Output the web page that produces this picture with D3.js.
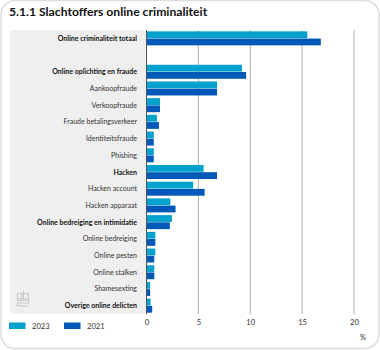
<!DOCTYPE html>
<html lang="nl">
<head>
<meta charset="UTF-8"/>
<title>5.1.1 Slachtoffers online criminaliteit</title>
<script src="https://d3js.org/d3.v7.min.js"></script>
<style>
	html, body { margin: 0; padding: 0; background: #fff; }
	svg { display: block; font-family: Lato, sans-serif; }
	.domain { display: none; }
</style>
</head>
<body>
<script>

var categories = [
	"Online criminaliteit totaal", "",
	"Online oplichting en fraude", "Aankoopfraude", "Verkoopfraude",
	"Fraude betalingsverkeer", "Identiteitsfraude", "Phishing",
	"Hacken", "Hacken account", "Hacken apparaat",
	"Online bedreiging en intimidatie", "Online bedreiging", "Online pesten",
	"Online stalken", "Shamesexting", "Overige online delicten"
];
var boldCategories = [
	"Online criminaliteit totaal", "Online oplichting en fraude", "Hacken",
	"Online bedreiging en intimidatie", "Overige online delicten"
];
var values2023 = [15.5, null, 9.2, 6.8, 1.3, 1.0, 0.7, 0.7, 5.5, 4.5, 2.3, 2.45, 0.85, 0.85, 0.75, 0.35, 0.4];
var values2021 = [16.8, null, 9.6, 6.8, 1.3, 1.2, 0.7, 0.7, 6.8, 5.6, 2.8, 2.25, 0.85, 0.75, 0.75, 0.35, 0.55];
var xTicks = [0, 5, 10, 15, 20];
var seriesNames = ["2023", "2021"];
var seriesColors = ["#00a1cd", "#0058b8"];

var w = 380;
var h = 350;
var top_ = 30;
var bottom = 314;
var x0 = 146.5;
var x20 = 354;

var svg = d3.select("body").append("svg")
	.attr("width", w)
	.attr("height", h);

// card outline
svg.append("rect")
	.attr("x", 1).attr("y", 0.5)
	.attr("width", 378).attr("height", 348)
	.attr("rx", 14)
	.attr("fill", "#fff")
	.attr("stroke", "#dcdcdc")
	.attr("stroke-width", 1.5);

svg.append("text")
	.attr("x", 9).attr("y", 16)
	.attr("font-size", 12.2)
	.attr("font-weight", 700)
	.attr("fill", "#111")
	.text("5.1.1 Slachtoffers online criminaliteit");

// grey label panel
svg.append("path")
	.attr("d", "M" + x0 + "," + top_ + "H13a3,3 0 0 0 -3,3V" + (bottom - 5) + "a5,5 0 0 0 5,5H" + x0 + "Z")
	.attr("fill", "#efefef");

var xScale = d3.scaleLinear().domain([0, 20]).range([x0, x20]);
var yScale = d3.scaleBand().domain(d3.range(categories.length)).range([top_, bottom]);
var barH = 6.8;

var xAxis = d3.axisBottom(xScale)
	.tickValues(xTicks)
	.tickSize(0)
	.tickPadding(5);

var gx = svg.append("g")
	.attr("transform", "translate(0," + (bottom + 1) + ")")
	.call(xAxis);
gx.selectAll("text")
	.attr("font-size", 7.6)
	.attr("font-family", "Lato, sans-serif")
	.attr("fill", "#333");

svg.selectAll(".grid")
	.data(xTicks.slice(1))
	.enter().append("line")
	.attr("class", "grid")
	.attr("x1", function(d) { return xScale(d); })
	.attr("x2", function(d) { return xScale(d); })
	.attr("y1", top_).attr("y2", bottom)
	.attr("stroke", "#b0b0b0")
	.attr("stroke-width", 1);

// bars, 2023 above and 2021 below
[values2023, values2021].forEach(function(vals, s) {
	var rows = vals.map(function(v, i) { return { v: v, i: i }; })
		.filter(function(d) { return d.v !== null; });
	svg.selectAll(".bar" + s)
		.data(rows)
		.enter().append("rect")
		.attr("class", "bar" + s)
		.attr("x", x0)
		.attr("y", function(d) {
			return yScale(d.i) + yScale.bandwidth() / 2 - (s === 0 ? barH + 0.2 : -0.2);
		})
		.attr("width", function(d) { return xScale(d.v) - x0; })
		.attr("height", barH)
		.attr("fill", seriesColors[s]);
});

svg.append("line")
	.attr("x1", x0).attr("x2", x0)
	.attr("y1", top_).attr("y2", bottom)
	.attr("stroke", "#555")
	.attr("stroke-width", 1);

svg.selectAll(".label")
	.data(categories)
	.enter().append("text")
	.attr("class", "label")
	.attr("x", 137)
	.attr("y", function(d, i) { return yScale(i) + yScale.bandwidth() / 2 + 2.5; })
	.attr("text-anchor", "end")
	.attr("font-size", 7)
	.attr("font-weight", function(d) { return boldCategories.indexOf(d) >= 0 ? 700 : 400; })
	.attr("fill", function(d) { return boldCategories.indexOf(d) >= 0 ? "#111" : "#333"; })
	.text(function(d) { return d; });

svg.append("text")
	.attr("x", 363).attr("y", 340)
	.attr("text-anchor", "middle")
	.attr("font-size", 7.6)
	.attr("fill", "#333")
	.text("%");

// legend
var legendX = [9, 64];
seriesNames.forEach(function(name, i) {
	svg.append("rect")
		.attr("x", legendX[i]).attr("y", 322.5)
		.attr("width", 16.5).attr("height", 6.5)
		.attr("fill", seriesColors[i]);
	svg.append("text")
		.attr("x", legendX[i] + 23).attr("y", 329)
		.attr("font-size", 7.6)
		.attr("fill", "#333")
		.text(name);
});

// cbs logo
var logo = svg.append("g")
	.attr("transform", "translate(17.5,290)")
	.attr("fill", "none")
	.attr("stroke", "#c8c8c8")
	.attr("stroke-width", 1.2);
logo.append("path").attr("d", "M0,3.5H4.5V9H0ZM6,0.5V9H11V3.5H6");
logo.append("path").attr("d", "M0,10.5H11V13H0V16H11");

</script>
</body>
</html>
